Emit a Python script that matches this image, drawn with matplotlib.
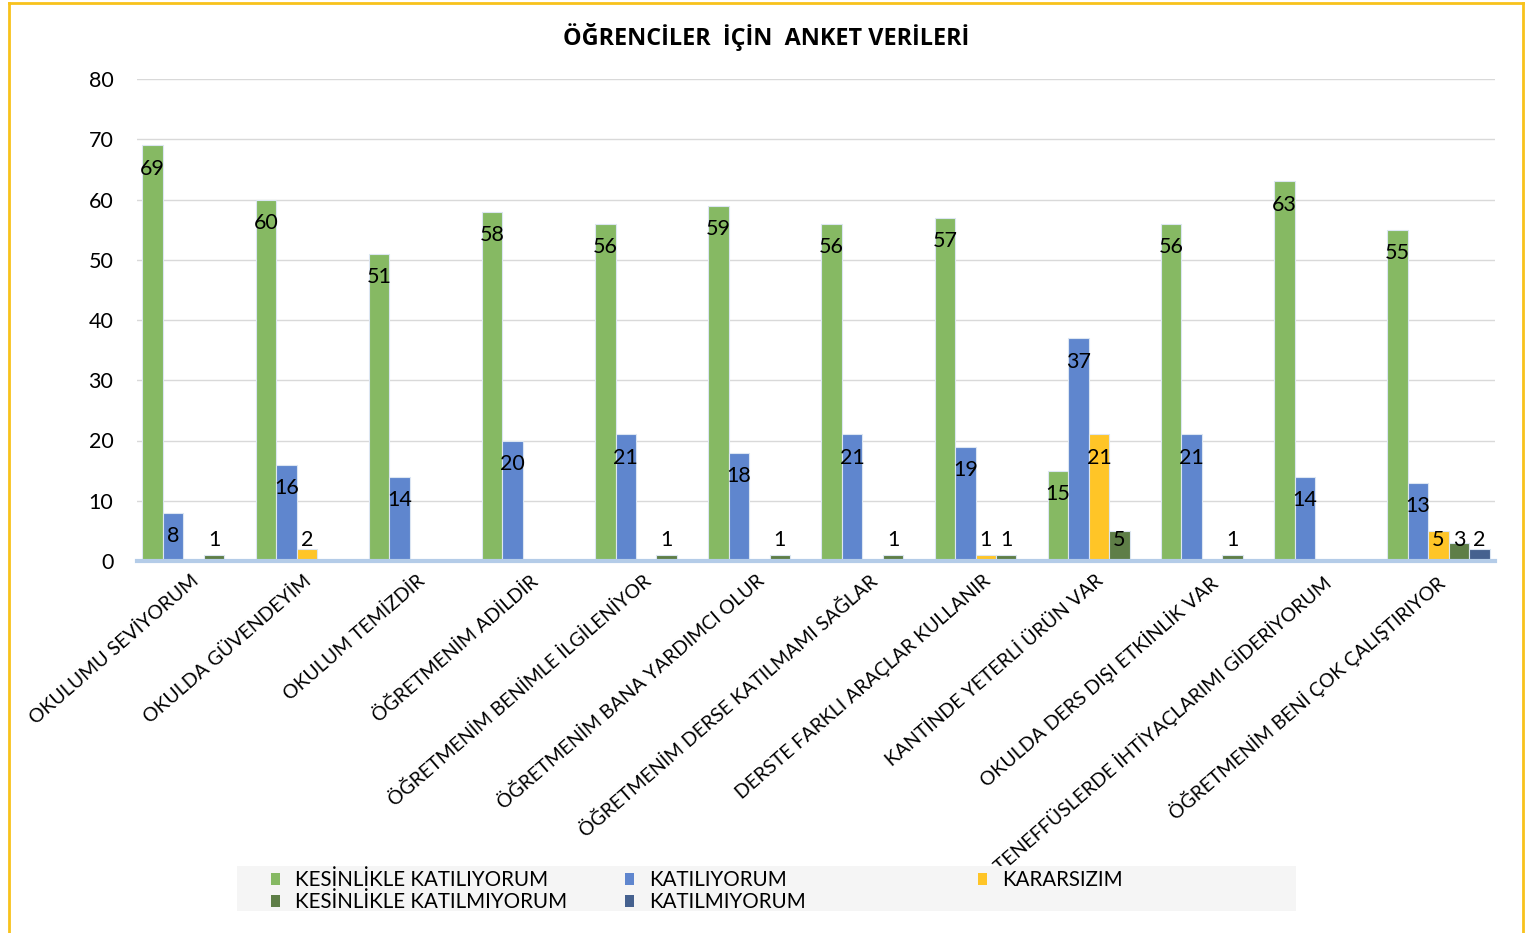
import matplotlib
matplotlib.use("Agg")
import matplotlib.pyplot as plt
from matplotlib.lines import Line2D
import numpy as np

plt.rcParams['font.family'] = ['Lato', 'DejaVu Sans']

categories = [
    "OKULUMU SEVİYORUM",
    "OKULDA GÜVENDEYİM",
    "OKULUM TEMİZDİR",
    "ÖĞRETMENİM ADİLDİR",
    "ÖĞRETMENİM BENİMLE İLGİLENİYOR",
    "ÖĞRETMENİM BANA YARDIMCI OLUR",
    "ÖĞRETMENİM DERSE KATILMAMI SAĞLAR",
    "DERSTE FARKLI ARAÇLAR KULLANIR",
    "KANTİNDE YETERLİ ÜRÜN VAR",
    "OKULDA DERS DIŞI ETKİNLİK VAR",
    "TENEFFÜSLERDE İHTİYAÇLARIMI GİDERİYORUM",
    "ÖĞRETMENİM BENİ ÇOK ÇALIŞTIRIYOR",
]
series_names = ["KESİNLİKLE KATILIYORUM", "KATILIYORUM", "KARARSIZIM",
                "KESİNLİKLE KATILMIYORUM", "KATILMIYORUM"]
kesinlikle_katiliyorum = [69, 60, 51, 58, 56, 59, 56, 57, 15, 56, 63, 55]
katiliyorum = [8, 16, 14, 20, 21, 18, 21, 19, 37, 21, 14, 13]
kararsizim = [0, 2, 0, 0, 0, 0, 0, 1, 21, 0, 0, 5]
kesinlikle_katilmiyorum = [1, 0, 0, 0, 1, 1, 1, 1, 5, 1, 0, 3]
katilmiyorum = [0, 0, 0, 0, 0, 0, 0, 0, 0, 0, 0, 2]
yticks = [0, 10, 20, 30, 40, 50, 60, 70, 80]

series = [kesinlikle_katiliyorum, katiliyorum, kararsizim,
          kesinlikle_katilmiyorum, katilmiyorum]
colors = ["#86B963", "#5F86CE", "#FFC527", "#5E7E47", "#45618F"]

fig = plt.figure(figsize=(15.3, 9.33), dpi=100)
ax = fig.add_axes([137/1530, 1-561/933, (1495-137)/1530, (561-79)/933])

x = np.arange(len(categories))
w = 0.181
for i, (vals, c) in enumerate(zip(series, colors)):
    pos = x + (i - 2) * w
    ax.bar(pos, vals, width=w, color=c, edgecolor="#DCE6F2", linewidth=0.8, zorder=3)
    for p, v in zip(pos, vals):
        if v > 0:
            ax.text(p, max(v - 3.9, 3.5), str(v), ha="center", va="center",
                    fontsize=15.5, color="black", zorder=4)

ax.set_xlim(-0.5, len(categories) - 0.5)
ax.set_ylim(0, 80)
ax.set_yticks(yticks)
ax.set_yticklabels([str(t) for t in yticks], fontsize=15.5)
ax.yaxis.grid(True, color="#D9D9D9", linewidth=1, zorder=0)
ax.tick_params(axis="y", length=0, pad=17)
ax.tick_params(axis="x", length=0, pad=8)
ax.set_xticks(x - 0.03)
ax.set_xticklabels(categories, rotation=41, ha="right", va="top",
                   rotation_mode="anchor", fontsize=14.0)
for s in ["top", "right", "left"]:
    ax.spines[s].set_visible(False)
ax.spines["bottom"].set_color("#B4CCE8")
ax.spines["bottom"].set_linewidth(3)
ax.spines["bottom"].set_zorder(5)

fig.text(766/1530, 1-37/933, "ÖĞRENCİLER  İÇİN  ANKET VERİLERİ", ha="center",
         va="center", fontsize=16.8, fontweight="bold",
         family=["Open Sans", "DejaVu Sans"])

# legend background
fig.patches.append(plt.Rectangle((237/1530, 1-911/933), (1296-237)/1530, 45/933,
                                 transform=fig.transFigure, facecolor="#F5F5F5",
                                 edgecolor="none", zorder=0))
leg_pos = [(276, 879), (630, 879), (983, 879), (276, 901), (630, 901)]
for (lx, ly), name, c in zip(leg_pos, series_names, colors):
    fig.patches.append(plt.Rectangle(((lx - 5)/1530, 1-(ly + 6)/933), 9/1530, 12/933,
                                     transform=fig.transFigure, facecolor=c,
                                     edgecolor="none", zorder=1))
    fig.text((lx + 19)/1530, 1-(ly + 1)/933, name, ha="left", va="center", fontsize=14.8)

# yellow border
bc = "#F8C21C"
fig.add_artist(Line2D([9/1530, 9/1530], [0, 1-3/933], color=bc, lw=2, transform=fig.transFigure))
fig.add_artist(Line2D([1523/1530, 1523/1530], [0, 1-3/933], color=bc, lw=2, transform=fig.transFigure))
fig.add_artist(Line2D([9/1530, 1523/1530], [1-3/933, 1-3/933], color=bc, lw=2, transform=fig.transFigure))

fig.savefig("out.png", dpi=100, facecolor="white")
